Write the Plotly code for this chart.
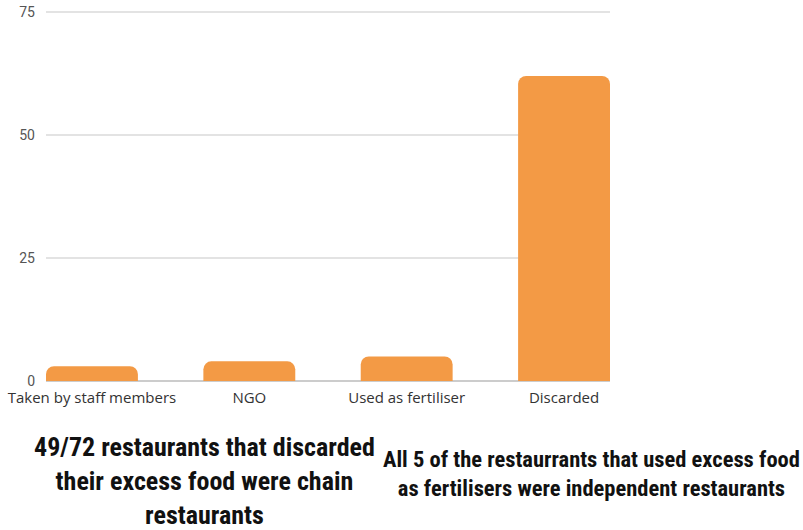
import plotly.graph_objects as go

categories = ["Taken by staff members", "NGO", "Used as fertiliser", "Discarded"]
values = [3, 4, 5, 62]
y_ticks = [0, 25, 50, 75]

note_left = "49/72 restaurants that discarded<br>their excess food were chain<br>restaurants"
note_right = "All 5 of the restaurrants that used excess food<br>as fertilisers were independent restaurants"

fig = go.Figure(go.Bar(
    x=categories, y=values,
    marker=dict(color="#F39A45", line=dict(width=0)),
))

L, R, T, B = 46, 193, 10, 149
pw = 803 - L - R
ph = 530 - T - B

def px(x):
    return (x - L) / pw

def py(y):
    return (530 - B - y) / ph

fig.update_layout(
    width=803, height=530,
    margin=dict(l=L, r=R, t=T, b=B, autoexpand=False),
    paper_bgcolor="white", plot_bgcolor="white",
    bargap=0.416,
    barcornerradius=8,
    showlegend=False,
    font=dict(family="Open Sans, Liberation Sans, sans-serif", color="#333"),
    xaxis=dict(
        range=[-0.292, 3.292], showgrid=False, zeroline=False, automargin=False,
        showline=False, ticks="", tickfont=dict(size=15, color="#333"),
        ticklabelstandoff=6,
    ),
    yaxis=dict(
        range=[0, 75.4], tickvals=y_ticks, showgrid=True, gridcolor="#e3e3e3",
        gridwidth=1.5, zeroline=True, zerolinecolor="#cccccc", zerolinewidth=1.5,
        automargin=False,
        ticks="", tickfont=dict(size=14, color="#555", family="Liberation Sans Narrow, Roboto, sans-serif"),
        ticklabelstandoff=10,
    ),
    annotations=[
        dict(text="<b>" + note_left + "</b>", xref="paper", yref="paper",
             x=px(204), y=py(430), xanchor="center", yanchor="top", showarrow=False,
             font=dict(size=26, color="#111", family="Liberation Sans Narrow, Roboto Condensed, Roboto, sans-serif"),
             align="center"),
        dict(text="<b>" + note_right + "</b>", xref="paper", yref="paper",
             x=px(591), y=py(444), xanchor="center", yanchor="top", showarrow=False,
             font=dict(size=22.5, color="#111", family="Liberation Sans Narrow, Roboto Condensed, Roboto, sans-serif"),
             align="center"),
    ],
)

fig.write_html("out.html")
